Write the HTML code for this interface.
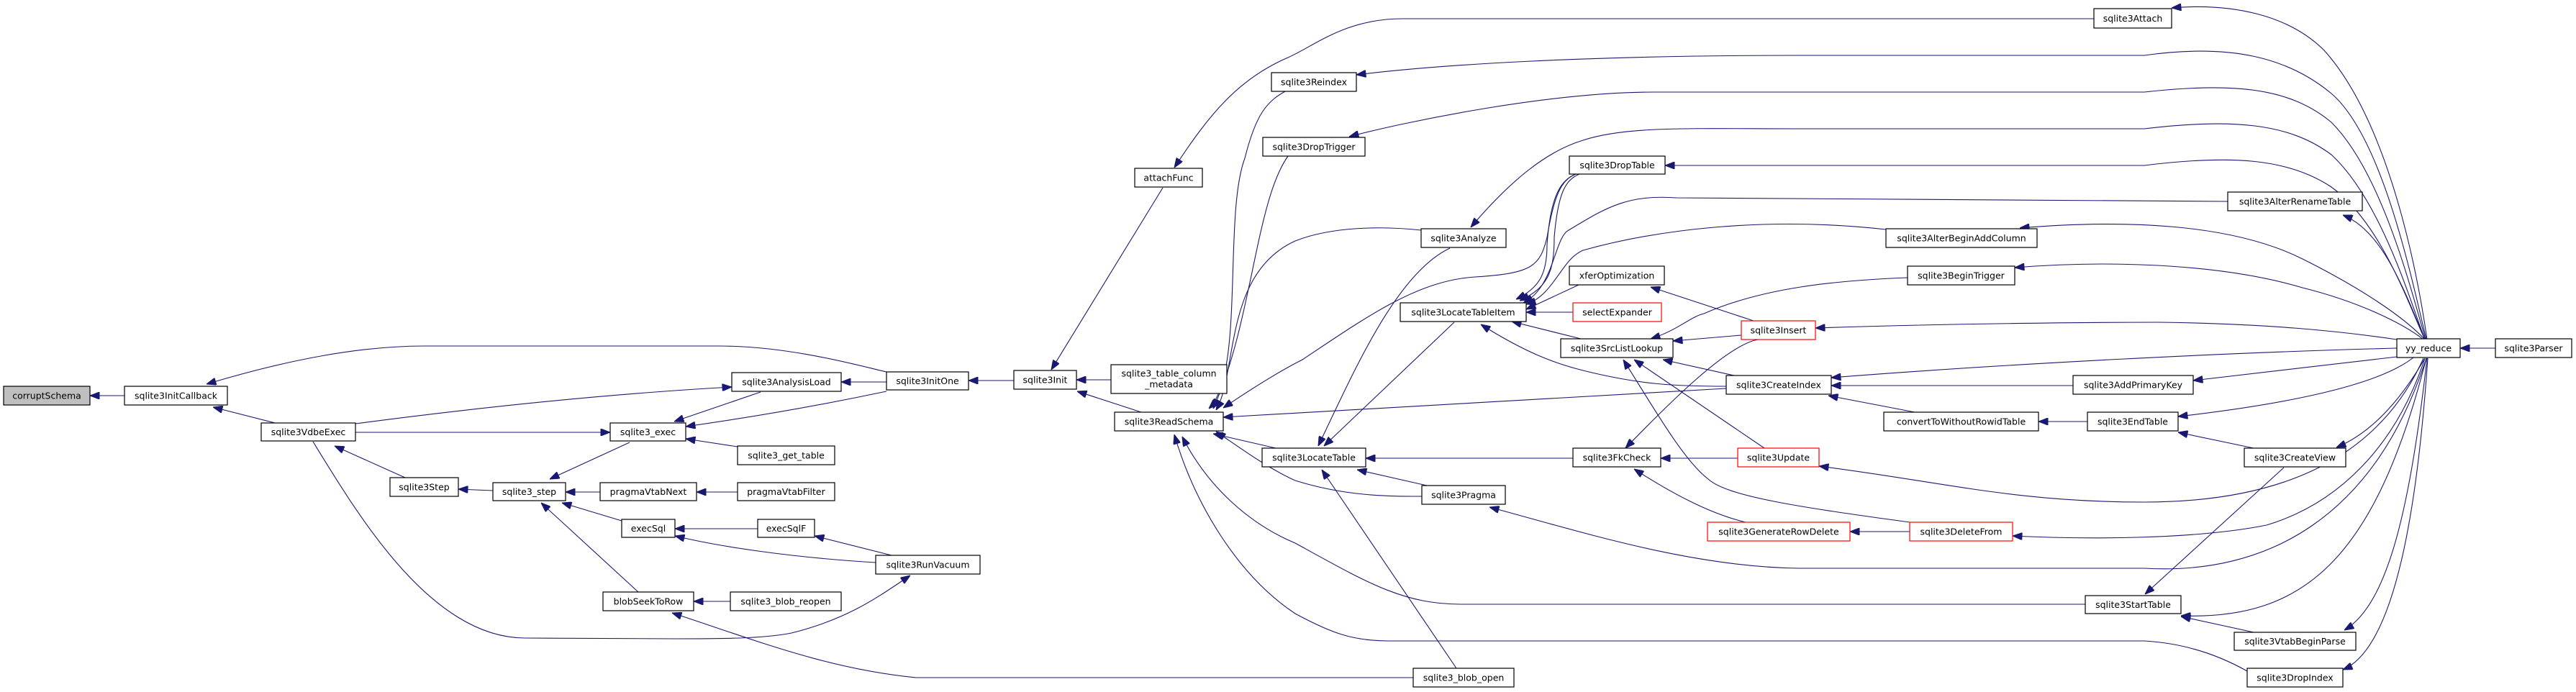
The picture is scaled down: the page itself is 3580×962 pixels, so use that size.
<!DOCTYPE html>
<html><head><meta charset="utf-8"><style>
html,body{margin:0;padding:0;background:#fff;}
svg text{font-family:"DejaVu Sans","Liberation Sans",sans-serif;font-size:12.5px;fill:#000;text-anchor:middle;dominant-baseline:central;}
</style></head><body>
<svg width="3580" height="957" viewBox="0 0 3580 957" xmlns="http://www.w3.org/2000/svg">
<defs>
<marker id="a" markerUnits="userSpaceOnUse" markerWidth="14" markerHeight="10" refX="0" refY="5" orient="auto">
<path d="M0,5 L13,0 L13,10 Z" fill="#191970" stroke="#191970"/>
</marker>
</defs>
<g fill="none" stroke="#191970" stroke-width="1.1" marker-start="url(#a)">
<path d="M125,550 L173,550"/>
<path d="M287,534 C400,500 500,481 590,481 L1000,481 C1100,481 1200,510 1232,517"/>
<path d="M296,566 L382,588"/>
<path d="M1017,538 C800,550 600,575 494,589"/>
<path d="M848,601 L494,601"/>
<path d="M465,620 L563,664"/>
<path d="M1265,800 C1220,830 1180,860 1100,880 C1060,888 1000,888 940,888 L730,887 C600,887 500,720 435,614"/>
<path d="M637,680 L685,682"/>
<path d="M764,666 L875,615"/>
<path d="M786,684 L834,684"/>
<path d="M781,699 L864,724"/>
<path d="M752,699 L887,823"/>
<path d="M937,586 L1057,545"/>
<path d="M953,593 C1080,575 1180,555 1232,544"/>
<path d="M953,610 L1025,621"/>
<path d="M1169,531 L1232,531"/>
<path d="M968,684 L1025,684"/>
<path d="M938,735 L1053,735"/>
<path d="M938,745 C1000,760 1100,775 1217,782"/>
<path d="M1132,745 L1239,772"/>
<path d="M964,836 L1015,836"/>
<path d="M934,852 C1050,890 1150,930 1273,942 L1964,942"/>
<path d="M1346,529 L1409,529"/>
<path d="M1461,514 L1616,261"/>
<path d="M1496,528 L1544,528"/>
<path d="M1497,544 L1586,573"/>
<path d="M1632,233 C1680,160 1720,110 1790,80 C1830,62 1870,26 1950,26 L2910,26"/>
<path d="M1700,580 C1900,570 2200,550 2399,540"/>
<path d="M1680,568 C1730,520 1700,300 1730,220 C1745,160 1760,140 1790,125"/>
<path d="M1686,568 C1740,450 1745,280 1790,217"/>
<path d="M1690,570 C1720,520 1700,380 1800,335 C1850,315 1920,314 1975,320"/>
<path d="M1700,567 C1740,540 1780,515 1810,500 C1900,440 1970,390 2050,385 C2130,380 2140,370 2150,330 C2160,270 2170,250 2190,242"/>
<path d="M1690,600 C1720,620 1760,650 1800,668 C1870,690 1930,690 1976,690"/>
<path d="M1686,603 L1773,623"/>
<path d="M1643,607 C1680,680 1740,730 1800,755 C1900,810 1950,840 2030,840 L2898,840"/>
<path d="M1632,604 C1660,700 1720,800 1800,853 C1850,880 1880,891 1930,891 L2980,891 C3050,895 3100,920 3123,933"/>
<path d="M2107,416 C2140,400 2150,380 2150,340 C2155,270 2170,250 2190,242"/>
<path d="M2112,418 C2150,400 2160,380 2160,330 C2165,270 2175,250 2195,242"/>
<path d="M2117,421 C2160,400 2160,330 2180,320 C2230,290 2260,270 2330,275 L3096,280"/>
<path d="M2121,423 C2160,410 2170,360 2200,348 C2300,320 2450,300 2621,319"/>
<path d="M2121,430 L2194,396"/>
<path d="M2121,434 L2186,434"/>
<path d="M2101,447 L2197,471"/>
<path d="M2058,451 C2120,490 2160,505 2200,515 C2280,535 2330,537 2399,537"/>
<path d="M1840,620 L2021,448"/>
<path d="M1832,620 C1880,520 1940,380 2015,345"/>
<path d="M1898,637 L2186,637"/>
<path d="M1886,653 L1983,675"/>
<path d="M1837,653 L2024,929"/>
<path d="M2325,474 L2420,466"/>
<path d="M2311,500 L2414,523"/>
<path d="M2271,500 L2452,623"/>
<path d="M2256,500 C2300,570 2340,640 2374,666 C2400,690 2500,705 2654,726"/>
<path d="M2294,471 C2330,460 2350,440 2368,436 C2450,400 2550,390 2651,386"/>
<path d="M2294,399 L2437,446"/>
<path d="M2259,623 C2320,560 2400,480 2443,472"/>
<path d="M2308,637 L2415,637"/>
<path d="M2271,652 C2330,690 2380,715 2426,726"/>
<path d="M2571,739 L2654,739"/>
<path d="M2545,525 C2800,505 3100,490 3331,484"/>
<path d="M2545,536 L2881,536"/>
<path d="M2541,550 L2661,573"/>
<path d="M2833,586 L2901,586"/>
<path d="M3027,601 L3132,623"/>
<path d="M2981,826 L3174,650"/>
<path d="M3031,857 L3132,879"/>
<path d="M3027,579 C3150,565 3300,540 3354,497"/>
<path d="M3048,529 L3331,496"/>
<path d="M3419,484 L3468,484"/>
<path d="M2523,456 C2700,450 2900,448 3000,448 C3150,450 3250,460 3331,472"/>
<path d="M2528,648 C2700,670 2800,698 2980,698 C3150,698 3300,650 3368,498"/>
<path d="M2797,745 C2900,750 3050,750 3150,730 C3250,700 3330,620 3370,498"/>
<path d="M2070,705 C2200,740 2350,788 2500,790 L2980,790 C3150,800 3300,720 3372,498"/>
<path d="M3247,622 C3300,600 3340,550 3370,498"/>
<path d="M3031,856 C3200,862 3300,780 3372,498"/>
<path d="M3258,876 C3320,840 3350,700 3373,498"/>
<path d="M3256,931 C3330,900 3360,700 3374,498"/>
<path d="M3256,299 C3310,320 3340,400 3370,472"/>
<path d="M2807,317 C2950,305 3100,310 3200,360 C3280,400 3340,440 3370,472"/>
<path d="M2800,372 C2950,360 3100,370 3200,400 C3280,420 3340,450 3368,472"/>
<path d="M3018,11 C3100,4 3180,20 3230,70 C3320,170 3360,380 3373,472"/>
<path d="M1885,104 C2000,90 2200,77 2500,77 L2980,77 C3100,60 3180,80 3240,130 C3310,190 3350,380 3372,472"/>
<path d="M1875,190 C1950,170 2150,128 2300,128 L2980,128 C3100,115 3180,120 3240,170 C3310,240 3350,400 3371,472"/>
<path d="M2044,316 C2100,250 2150,210 2200,195 C2260,175 2350,179 2500,179 L2980,179 C3100,165 3180,170 3240,215 C3310,280 3350,420 3370,472"/>
<path d="M2314,230 L2980,230 C3100,215 3180,220 3240,260 C3310,310 3350,430 3370,472"/>
</g>
<g stroke-width="1.2" fill="#fff">
<rect x="5" y="537" width="120" height="26" fill="#bfbfbf" stroke="#000"/>
<rect x="173" y="537" width="143" height="26" stroke="#000"/>
<rect x="363" y="588" width="131" height="25" stroke="#000"/>
<rect x="542" y="664" width="95" height="26" stroke="#000"/>
<rect x="685" y="671" width="101" height="25" stroke="#000"/>
<rect x="834" y="671" width="134" height="25" stroke="#000"/>
<rect x="864" y="722" width="74" height="25" stroke="#000"/>
<rect x="838" y="823" width="126" height="26" stroke="#000"/>
<rect x="848" y="588" width="105" height="25" stroke="#000"/>
<rect x="1017" y="518" width="152" height="26" stroke="#000"/>
<rect x="1232" y="517" width="114" height="25" stroke="#000"/>
<rect x="1025" y="620" width="135" height="26" stroke="#000"/>
<rect x="1025" y="671" width="135" height="25" stroke="#000"/>
<rect x="1053" y="722" width="79" height="25" stroke="#000"/>
<rect x="1217" y="772" width="145" height="26" stroke="#000"/>
<rect x="1015" y="823" width="154" height="26" stroke="#000"/>
<rect x="1409" y="515" width="87" height="26" stroke="#000"/>
<rect x="1544" y="507" width="161" height="40" stroke="#000"/>
<rect x="1577" y="234" width="94" height="26" stroke="#000"/>
<rect x="1549" y="573" width="151" height="26" stroke="#000"/>
<rect x="1767" y="101" width="118" height="26" stroke="#000"/>
<rect x="1755" y="191" width="142" height="26" stroke="#000"/>
<rect x="1754" y="623" width="144" height="26" stroke="#000"/>
<rect x="2181" y="217" width="133" height="25" stroke="#000"/>
<rect x="1975" y="318" width="118" height="26" stroke="#000"/>
<rect x="2181" y="370" width="132" height="26" stroke="#000"/>
<rect x="1946" y="421" width="175" height="26" stroke="#000"/>
<rect x="2186" y="421" width="123" height="26" stroke="#ff0000"/>
<rect x="2169" y="471" width="156" height="26" stroke="#000"/>
<rect x="2420" y="446" width="103" height="26" stroke="#ff0000"/>
<rect x="2399" y="522" width="146" height="26" stroke="#000"/>
<rect x="2186" y="623" width="122" height="26" stroke="#000"/>
<rect x="2415" y="623" width="113" height="26" stroke="#ff0000"/>
<rect x="1976" y="675" width="116" height="26" stroke="#000"/>
<rect x="2373" y="726" width="198" height="26" stroke="#ff0000"/>
<rect x="1964" y="929" width="140" height="26" stroke="#000"/>
<rect x="2621" y="318" width="210" height="26" stroke="#000"/>
<rect x="2651" y="370" width="149" height="26" stroke="#000"/>
<rect x="2618" y="573" width="215" height="26" stroke="#000"/>
<rect x="2654" y="726" width="143" height="26" stroke="#ff0000"/>
<rect x="2910" y="12" width="108" height="27" stroke="#000"/>
<rect x="3096" y="267" width="187" height="26" stroke="#000"/>
<rect x="3331" y="471" width="88" height="26" stroke="#000"/>
<rect x="3468" y="471" width="106" height="26" stroke="#000"/>
<rect x="2881" y="522" width="167" height="26" stroke="#000"/>
<rect x="2901" y="573" width="126" height="26" stroke="#000"/>
<rect x="3119" y="623" width="141" height="26" stroke="#000"/>
<rect x="2898" y="828" width="133" height="25" stroke="#000"/>
<rect x="3105" y="879" width="169" height="25" stroke="#000"/>
<rect x="3123" y="929" width="133" height="26" stroke="#000"/>
</g>
<g>
<text x="65" y="550">corruptSchema</text>
<text x="244.5" y="550">sqlite3InitCallback</text>
<text x="428.5" y="600.5">sqlite3VdbeExec</text>
<text x="589.5" y="677">sqlite3Step</text>
<text x="735.5" y="683.5">sqlite3_step</text>
<text x="901" y="683.5">pragmaVtabNext</text>
<text x="901" y="734.5">execSql</text>
<text x="901" y="836">blobSeekToRow</text>
<text x="900.5" y="600.5">sqlite3_exec</text>
<text x="1093" y="531">sqlite3AnalysisLoad</text>
<text x="1289" y="529.5">sqlite3InitOne</text>
<text x="1092.5" y="633">sqlite3_get_table</text>
<text x="1092.5" y="683.5">pragmaVtabFilter</text>
<text x="1092.5" y="734.5">execSqlF</text>
<text x="1289.5" y="785">sqlite3RunVacuum</text>
<text x="1092" y="836">sqlite3_blob_reopen</text>
<text x="1452.5" y="528">sqlite3Init</text>
<text x="1624.5" y="519">sqlite3_table_column</text>
<text x="1624.5" y="534">_metadata</text>
<text x="1624" y="247">attachFunc</text>
<text x="1624.5" y="586">sqlite3ReadSchema</text>
<text x="1826" y="114">sqlite3Reindex</text>
<text x="1826" y="204">sqlite3DropTrigger</text>
<text x="1826" y="636">sqlite3LocateTable</text>
<text x="2247.5" y="229.5">sqlite3DropTable</text>
<text x="2034" y="331">sqlite3Analyze</text>
<text x="2247" y="383">xferOptimization</text>
<text x="2033.5" y="434">sqlite3LocateTableItem</text>
<text x="2247.5" y="434">selectExpander</text>
<text x="2247" y="484">sqlite3SrcListLookup</text>
<text x="2471.5" y="459">sqlite3Insert</text>
<text x="2472" y="535">sqlite3CreateIndex</text>
<text x="2247" y="636">sqlite3FkCheck</text>
<text x="2471.5" y="636">sqlite3Update</text>
<text x="2034" y="688">sqlite3Pragma</text>
<text x="2472" y="739">sqlite3GenerateRowDelete</text>
<text x="2034" y="942">sqlite3_blob_open</text>
<text x="2726" y="331">sqlite3AlterBeginAddColumn</text>
<text x="2725.5" y="383">sqlite3BeginTrigger</text>
<text x="2725.5" y="586">convertToWithoutRowidTable</text>
<text x="2725.5" y="739">sqlite3DeleteFrom</text>
<text x="2964" y="25.5">sqlite3Attach</text>
<text x="3189.5" y="280">sqlite3AlterRenameTable</text>
<text x="3375" y="484">yy_reduce</text>
<text x="3521" y="484">sqlite3Parser</text>
<text x="2964.5" y="535">sqlite3AddPrimaryKey</text>
<text x="2964" y="586">sqlite3EndTable</text>
<text x="3189.5" y="636">sqlite3CreateView</text>
<text x="2964.5" y="840.5">sqlite3StartTable</text>
<text x="3189.5" y="891.5">sqlite3VtabBeginParse</text>
<text x="3189.5" y="942">sqlite3DropIndex</text>
</g>
</svg>
</body></html>
